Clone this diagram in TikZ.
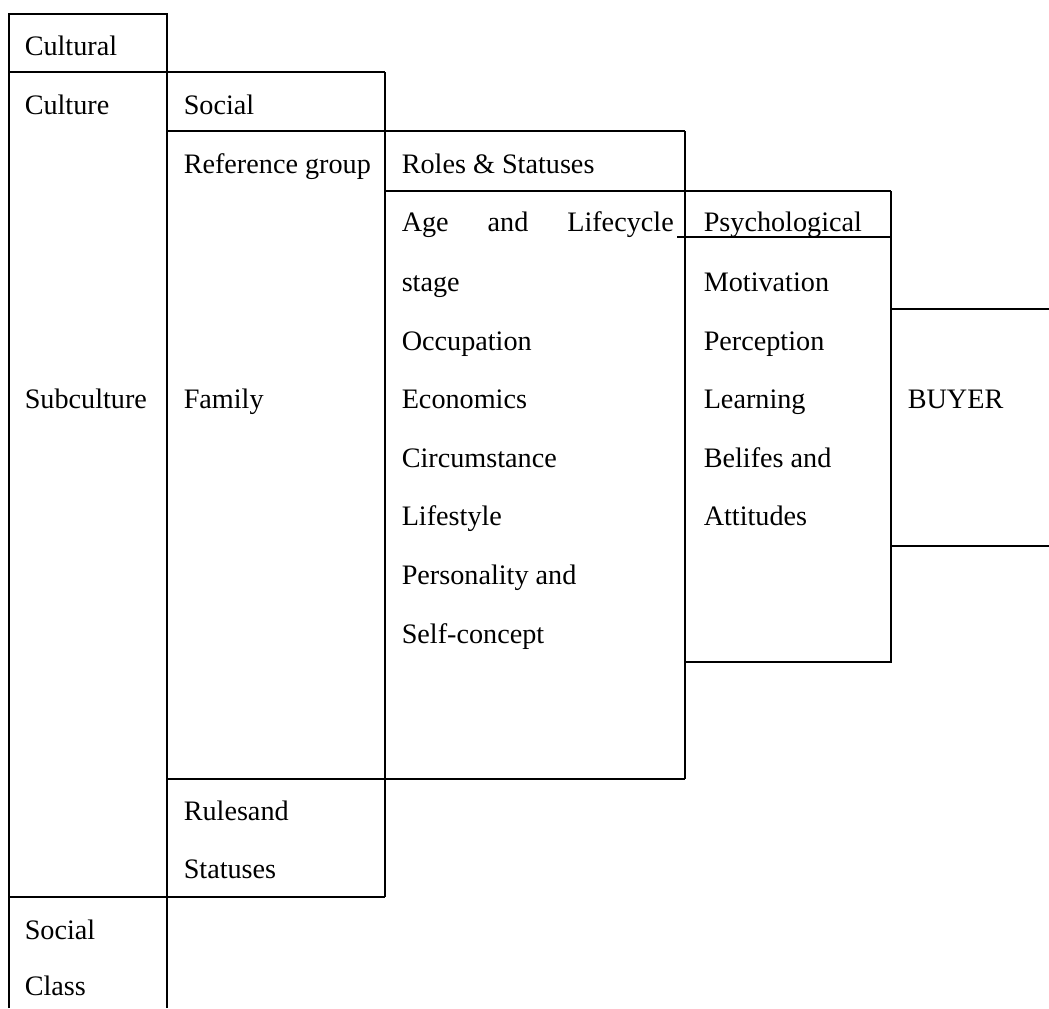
\documentclass[tikz,border=0pt]{standalone}
\usepackage{fontspec}
\setmainfont{Liberation Serif}

\begin{document}
\begin{tikzpicture}[x=0.5pt, y=-0.5pt, line width=0.75pt,
  lbl/.style={anchor=base west, inner sep=0pt, font=\fontsize{14.1}{17}\selectfont}]
  \useasboundingbox (0,0) rectangle (1049,1008);
  % cultural column
  \draw (9,1008) -- (9,14) -- (167,14) -- (167,1008);
  \draw (9,72) -- (385,72);
  \draw (9,897) -- (385,897);
  % social column
  \draw (385,72) -- (385,897);
  \draw (167,131) -- (685,131);
  \draw (167,779) -- (685,779);
  % roles column
  \draw (685,131) -- (685,779);
  \draw (385,191) -- (891,191);
  % psychological column
  \draw (677,237) -- (891,237);
  \draw (891,191) -- (891,662) -- (685,662);
  % buyer
  \draw (891,309) -- (1049,309);
  \draw (891,546) -- (1049,546);

  \node[lbl] (cultural) at (24,55) {Cultural};
  \node[lbl] (culture) at (24,114) {Culture};
  \node[lbl] (subculture) at (24,408) {Subculture};
  \node[lbl] (socclass1) at (24,939) {Social};
  \node[lbl] (socclass2) at (24,995) {Class};

  \node[lbl] (social) at (183,114) {Social};
  \node[lbl] (refgroup) at (183,173) {Reference group};
  \node[lbl] (family) at (183,408) {Family};
  \node[lbl] (rules1) at (183,820) {Rulesand};
  \node[lbl] (rules2) at (183,878) {Statuses};

  \node[lbl] (roles) at (401,173) {Roles \& Statuses};
  \node[lbl, text width=136pt] (age) at (401,231) {Age\hfill and\hfill Lifecycle};
  \node[lbl] (stage) at (401,291) {stage};
  \node[lbl] (occup) at (401,350) {Occupation};
  \node[lbl] (econ) at (401,408) {Economics};
  \node[lbl] (circ) at (401,467) {Circumstance};
  \node[lbl] (lifestyle) at (401,525) {Lifestyle};
  \node[lbl] (person) at (401,584) {Personality and};
  \node[lbl] (selfcon) at (401,643) {Self-concept};

  \node[lbl] (psych) at (703,231) {Psychological};
  \node[lbl] (motiv) at (703,291) {Motivation};
  \node[lbl] (percep) at (703,350) {Perception};
  \node[lbl] (learn) at (703,408) {Learning};
  \node[lbl] (belief) at (703,467) {Belifes and};
  \node[lbl] (attit) at (703,525) {Attitudes};

  \node[lbl] (buyer) at (907,408) {BUYER};
\end{tikzpicture}
\end{document}
